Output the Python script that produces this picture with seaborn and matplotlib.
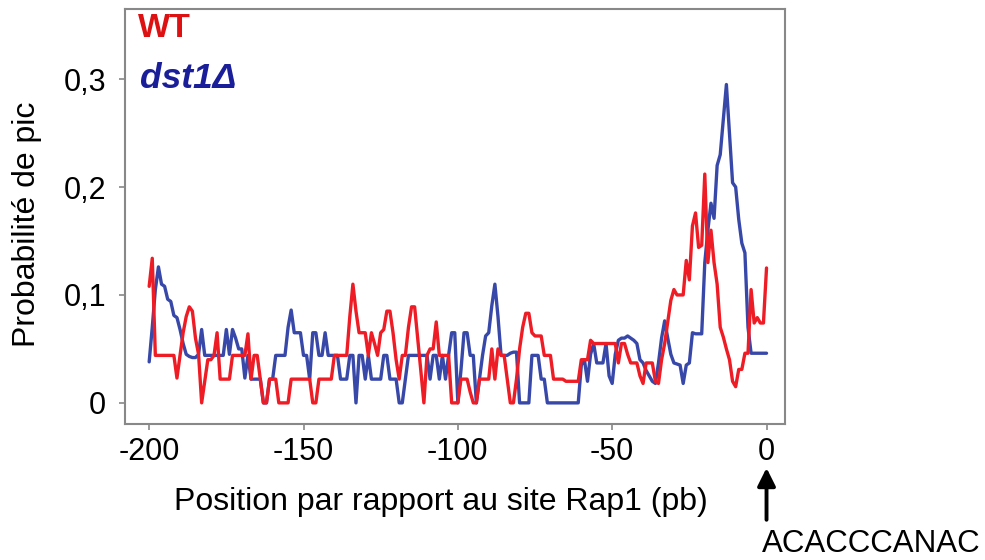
import numpy as np
import pandas as pd
import seaborn as sns
import matplotlib
matplotlib.use("Agg")
import matplotlib.pyplot as plt

# Position relative to the Rap1 site (bp)
positions = list(range(-200, 1))

# Peak probability, wild type
wt = [
    0.108, 0.134, 0.044, 0.044, 0.044, 0.044, 0.044, 0.044, 0.044, 0.023,  # -200..-191
    0.044, 0.065, 0.080, 0.089, 0.085, 0.060, 0.045, 0.000, 0.020, 0.040,  # -190..-181
    0.040, 0.044, 0.065, 0.022, 0.022, 0.022, 0.022, 0.044, 0.044, 0.044,  # -180..-171
    0.044, 0.044, 0.064, 0.022, 0.044, 0.044, 0.022, 0.000, 0.000, 0.022,  # -170..-161
    0.022, 0.022, 0.000, 0.000, 0.000, 0.000, 0.022, 0.022, 0.022, 0.022,  # -160..-151
    0.022, 0.022, 0.022, 0.000, 0.000, 0.022, 0.022, 0.022, 0.022, 0.022,  # -150..-141
    0.044, 0.044, 0.044, 0.044, 0.044, 0.080, 0.110, 0.085, 0.065, 0.065,  # -140..-131
    0.065, 0.044, 0.065, 0.055, 0.044, 0.065, 0.068, 0.085, 0.085, 0.065,  # -130..-121
    0.040, 0.022, 0.044, 0.044, 0.070, 0.089, 0.089, 0.060, 0.030, 0.000,  # -120..-111
    0.044, 0.050, 0.050, 0.075, 0.044, 0.044, 0.044, 0.044, 0.000, 0.000,  # -110..-101
    0.000, 0.022, 0.022, 0.022, 0.010, 0.000, 0.000, 0.022, 0.022, 0.022,  # -100..-91
    0.022, 0.050, 0.022, 0.050, 0.044, 0.044, 0.022, 0.000, 0.000, 0.022,  # -90..-81
    0.050, 0.070, 0.083, 0.083, 0.065, 0.062, 0.062, 0.062, 0.044, 0.044,  # -80..-71
    0.044, 0.022, 0.022, 0.022, 0.022, 0.020, 0.020, 0.020, 0.020, 0.020,  # -70..-61
    0.040, 0.040, 0.040, 0.058, 0.055, 0.055, 0.055, 0.055, 0.055, 0.055,  # -60..-51
    0.055, 0.055, 0.037, 0.055, 0.055, 0.045, 0.037, 0.037, 0.037, 0.025,  # -50..-41
    0.018, 0.037, 0.037, 0.037, 0.020, 0.018, 0.040, 0.055, 0.075, 0.095,  # -40..-31
    0.105, 0.100, 0.100, 0.100, 0.132, 0.114, 0.164, 0.176, 0.144, 0.146,  # -30..-21
    0.212, 0.130, 0.160, 0.130, 0.110, 0.070, 0.061, 0.050, 0.040, 0.020,  # -20..-11
    0.015, 0.031, 0.031, 0.046, 0.046, 0.105, 0.074, 0.079, 0.074, 0.074,  # -10..-1
    0.125,                                                                 # 0
]

# Peak probability, dst1 deletion mutant
dst1 = [
    0.038, 0.070, 0.105, 0.126, 0.110, 0.108, 0.096, 0.094, 0.081, 0.079,  # -200..-191
    0.068, 0.055, 0.045, 0.043, 0.042, 0.042, 0.045, 0.068, 0.044, 0.044,  # -190..-181
    0.044, 0.044, 0.044, 0.044, 0.044, 0.068, 0.045, 0.068, 0.060, 0.050,  # -180..-171
    0.050, 0.023, 0.044, 0.022, 0.022, 0.022, 0.022, 0.000, 0.000, 0.022,  # -170..-161
    0.022, 0.044, 0.044, 0.044, 0.044, 0.070, 0.086, 0.065, 0.065, 0.065,  # -160..-151
    0.044, 0.044, 0.022, 0.065, 0.065, 0.044, 0.044, 0.065, 0.044, 0.044,  # -150..-141
    0.044, 0.044, 0.022, 0.022, 0.022, 0.044, 0.044, 0.000, 0.044, 0.044,  # -140..-131
    0.022, 0.044, 0.022, 0.022, 0.022, 0.022, 0.044, 0.044, 0.022, 0.022,  # -130..-121
    0.022, 0.000, 0.000, 0.022, 0.044, 0.044, 0.044, 0.044, 0.044, 0.044,  # -120..-111
    0.044, 0.022, 0.044, 0.044, 0.022, 0.044, 0.022, 0.044, 0.065, 0.065,  # -110..-101
    0.000, 0.030, 0.065, 0.065, 0.044, 0.044, 0.000, 0.022, 0.044, 0.062,  # -100..-91
    0.065, 0.090, 0.110, 0.080, 0.044, 0.044, 0.044, 0.046, 0.047, 0.047,  # -90..-81
    0.000, 0.000, 0.000, 0.000, 0.044, 0.044, 0.044, 0.022, 0.022, 0.000,  # -80..-71
    0.000, 0.000, 0.000, 0.000, 0.000, 0.000, 0.000, 0.000, 0.000, 0.000,  # -70..-61
    0.035, 0.040, 0.020, 0.045, 0.055, 0.037, 0.037, 0.037, 0.055, 0.025,  # -60..-51
    0.018, 0.045, 0.058, 0.060, 0.060, 0.062, 0.060, 0.058, 0.055, 0.040,  # -50..-41
    0.037, 0.030, 0.025, 0.020, 0.018, 0.037, 0.060, 0.076, 0.060, 0.045,  # -40..-31
    0.037, 0.036, 0.035, 0.018, 0.035, 0.037, 0.065, 0.064, 0.064, 0.064,  # -30..-21
    0.130, 0.160, 0.185, 0.171, 0.220, 0.230, 0.262, 0.295, 0.250, 0.204,  # -20..-11
    0.200, 0.170, 0.148, 0.139, 0.070, 0.046, 0.046, 0.046, 0.046, 0.046,  # -10..-1
    0.046,                                                                 # 0
]

strains = ["dst1", "WT"]
y_ticks = [0, 0.1, 0.2, 0.3]
y_tick_labels = ["0", "0,1", "0,2", "0,3"]
x_ticks = [-200, -150, -100, -50, 0]
x_tick_labels = ["-200", "-150", "-100", "-50", "0"]

assert len(wt) == len(positions) and len(dst1) == len(positions)

df = pd.concat([
    pd.DataFrame({"position": positions, "prob": dst1, "strain": strains[0]}),
    pd.DataFrame({"position": positions, "prob": wt, "strain": strains[1]}),
], ignore_index=True)

sns.set_theme(style="white")
plt.rcParams["font.family"] = ["Liberation Sans", "DejaVu Sans"]

fig = plt.figure(figsize=(9.85, 5.6), dpi=100)
ax = fig.add_axes([0.127, 0.243, 0.670, 0.741])

palette = {"dst1": "#3848A8", "WT": "#EE1C25"}
sns.lineplot(data=df, x="position", y="prob", hue="strain", hue_order=strains,
             palette=palette, estimator=None, linewidth=2.4, legend=False, ax=ax)

ax.set_xlim(-207.8, 6)
ax.set_ylim(-0.0195, 0.365)
ax.set_xticks(x_ticks)
ax.set_xticklabels(x_tick_labels)
ax.set_yticks(y_ticks)
ax.set_yticklabels(y_tick_labels)

for spine in ax.spines.values():
    spine.set_visible(True)
    spine.set_color("#888888")
    spine.set_linewidth(1.5)

ax.tick_params(axis="both", which="major", direction="out", length=4.5,
               width=1.2, color="#888888", labelsize=22, labelcolor="black",
               left=True, bottom=True)
ax.tick_params(axis="y", pad=9)
ax.tick_params(axis="x", pad=5)

ax.set_xlabel("Position par rapport au site Rap1 (pb)", fontsize=23, color="black")
ax.set_ylabel("Probabilité de pic", fontsize=23, color="black")
ax.xaxis.set_label_coords(0.479, -0.152)
ax.yaxis.set_label_coords(-0.126, 0.48)

# Strain labels in the upper-left corner
ax.text(0.02, 0.9325, "WT", transform=ax.transAxes, fontsize=24.5,
        fontweight="bold", color="#DD1111", va="baseline", ha="left")
ax.text(0.022, 0.81, "dst1Δ", transform=ax.transAxes, fontsize=25.5,
        fontweight="bold", fontstyle="italic", color="#1A1F99",
        va="baseline", ha="left")

# Arrow pointing to the Rap1 site with its consensus sequence
trans = ax.get_xaxis_transform()
ax.annotate("", xy=(0, -0.106), xycoords=trans, xytext=(0, -0.231),
            textcoords=trans, annotation_clip=False,
            arrowprops=dict(arrowstyle="-|>,head_length=0.9,head_width=0.45",
                            color="black", lw=2.8, shrinkA=0, shrinkB=0))
ax.text(-1.5, -0.308, "ACACCCANAC", transform=trans, fontsize=22.5,
        color="black", va="baseline", ha="left", clip_on=False)

fig.savefig("out.png", dpi=100)
